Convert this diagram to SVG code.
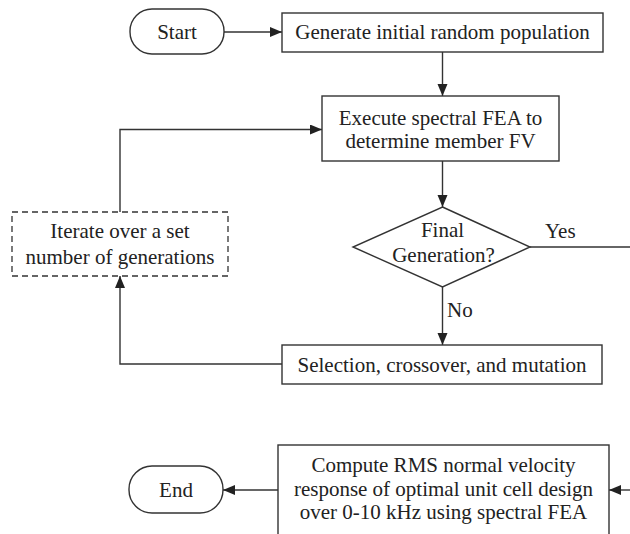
<svg xmlns="http://www.w3.org/2000/svg" width="630" height="534" viewBox="0 0 630 534">
<defs>
<marker id="arr" markerUnits="userSpaceOnUse" markerWidth="13" markerHeight="11" refX="12" refY="5" orient="auto">
<path d="M0,0 L12,5 L0,10 z" fill="#222"/>
</marker>
<style>
.box{fill:#fff;stroke:#333;stroke-width:1.4}
.dash{fill:#fff;stroke:#333;stroke-width:1.3;stroke-dasharray:6,4}
.ln{fill:none;stroke:#333;stroke-width:1.4}
.ar{marker-end:url(#arr)}
text{font-family:"Liberation Serif","Times New Roman",serif;font-size:21px;fill:#222;text-anchor:middle}
.l{text-anchor:start}
</style>
</defs>
<rect width="630" height="534" fill="#fff"/>
<g id="connectors">
<line class="ln ar" x1="224" y1="32" x2="282" y2="32"/>
<line class="ln ar" x1="442.5" y1="52" x2="442.5" y2="96"/>
<line class="ln ar" x1="442.5" y1="161" x2="442.5" y2="207"/>
<line class="ln ar" x1="442.5" y1="287" x2="442.5" y2="345"/>
<polyline class="ln ar" points="282,364 120,364 120,276"/>
<polyline class="ln ar" points="120,212 120,129.5 322,129.5"/>
<line class="ln" x1="530" y1="247" x2="630" y2="247"/>
<line class="ln ar" x1="630" y1="490" x2="609" y2="490"/>
<line class="ln ar" x1="278" y1="490" x2="223" y2="490"/>
<text class="l" x="545" y="238">Yes</text>
<text class="l" x="447" y="317">No</text>
</g>
<g id="start">
<rect class="box" x="130" y="9" width="94" height="45" rx="22" ry="22"/>
<text x="177" y="38.5">Start</text>
</g>
<g id="generate">
<rect class="box" x="282" y="13" width="321" height="39"/>
<text x="442.5" y="39">Generate initial random population</text>
</g>
<g id="execute">
<rect class="box" x="322" y="96" width="237" height="65"/>
<text x="440.5" y="124.5">Execute spectral FEA to</text>
<text x="440.5" y="147.5">determine member FV</text>
</g>
<g id="decision">
<polygon class="box" points="442.5,207 530,247 442.5,287 353,247"/>
<text x="442.5" y="237">Final</text>
<text x="443.5" y="262">Generation?</text>
</g>
<g id="iterate">
<rect class="dash" x="12" y="212" width="216" height="64"/>
<text x="120" y="238">Iterate over a set</text>
<text x="120" y="264">number of generations</text>
</g>
<g id="selection">
<rect class="box" x="282" y="345" width="320" height="39"/>
<text x="442" y="371.5">Selection, crossover, and mutation</text>
</g>
<g id="compute">
<rect class="box" x="278" y="445" width="331" height="100"/>
<text x="443.5" y="472">Compute RMS normal velocity</text>
<text x="443.5" y="495.5">response of optimal unit cell design</text>
<text x="443.5" y="519">over 0-10 kHz using spectral FEA</text>
</g>
<g id="end">
<rect class="box" x="129" y="466" width="94" height="47" rx="23" ry="23"/>
<text x="176" y="497">End</text>
</g>
</svg>
